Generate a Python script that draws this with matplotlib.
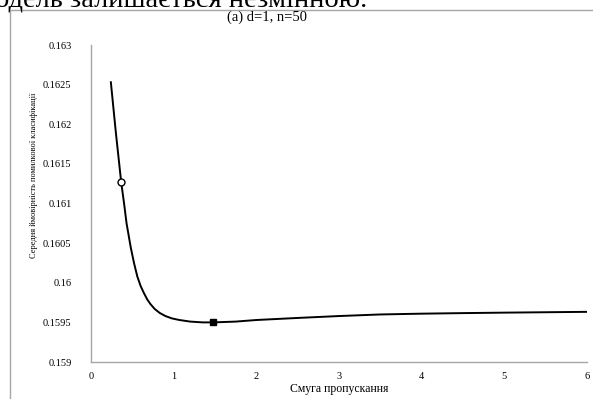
import matplotlib.pyplot as plt
from matplotlib.patches import Rectangle

# values
bandwidth = [0.24, 0.30, 0.365, 0.40, 0.43, 0.48, 0.52, 0.56, 0.60, 0.64, 0.68, 0.72,
             0.77, 0.83, 0.90, 0.98, 1.07, 1.20, 1.35, 1.48, 1.75, 2.0, 2.5, 3.0, 3.5,
             4.0, 4.5, 5.0, 5.5, 6.0]
error_prob = [0.16253, 0.16190, 0.16127, 0.16100, 0.16075, 0.16045, 0.16025, 0.16008,
              0.15996, 0.15987, 0.15979, 0.15973, 0.15967, 0.15962, 0.15958, 0.15955,
              0.15953, 0.15951, 0.15950, 0.15950, 0.15951, 0.15953, 0.159556,
              0.15958, 0.15960, 0.159610, 0.159617, 0.159623, 0.159628, 0.159633]
circle_pt = (0.365, 0.16127)
square_pt = (1.48, 0.15950)

title = '(a) d=1, n=50'
xlab = 'Смуга пропускання'
ylab = 'Середня ймовірність помилкової класифікації'
xticks = [0, 1, 2, 3, 4, 5, 6]
yticks = [0.159, 0.1595, 0.16, 0.1605, 0.161, 0.1615, 0.162, 0.1625, 0.163]

plt.rcParams['font.family'] = ['Liberation Serif', 'DejaVu Serif']

fig = plt.figure(figsize=(5.93, 3.99), dpi=100)
ax = fig.add_axes([0.1535, 0.0927, 0.836, 0.7945])

# document text cut off at the top of the screenshot
fig.text(-0.008, 1 - 6/399, 'одель залишається незмінною.', fontsize=20.5, ha='left', va='baseline')
# chart frame from the document
fig.patches.append(Rectangle((10/593, -0.1), 1.2, 1 - 10/399 + 0.1, transform=fig.transFigure,
                             fill=False, edgecolor='#a6a6a6', linewidth=1.0))

ax.plot(bandwidth, error_prob, color='black', linewidth=1.4)
ax.plot([circle_pt[0]], [circle_pt[1]], marker='o', markersize=5, markerfacecolor='white',
        markeredgecolor='black', markeredgewidth=1.0, linestyle='none')
ax.plot([square_pt[0]], [square_pt[1]], marker='s', markersize=5, color='black', linestyle='none')

ax.set_xlim(0, 6)
ax.set_ylim(0.159, 0.163)
ax.set_xticks(xticks)
ax.set_xticklabels([str(t) for t in xticks])
ax.set_yticks(yticks)
ax.set_yticklabels([('%g' % t) for t in yticks])
ax.tick_params(axis='both', length=0, labelsize=7.5)
ax.tick_params(axis='y', pad=14)
ax.tick_params(axis='x', pad=7)

for s in ['top', 'right']:
    ax.spines[s].set_visible(False)
for s in ['left', 'bottom']:
    ax.spines[s].set_color('#a6a6a6')
    ax.spines[s].set_linewidth(1.0)

fig.text(267/593, 1 - 17/399, title, fontsize=10.5, ha='center', va='center')
fig.text(339/593, 1 - 389/399, xlab, fontsize=8.5, ha='center', va='center')
fig.text(34/593, 1 - 175/399, ylab, fontsize=6, ha='center', va='center', rotation=90)

fig.savefig('out.png', dpi=100)
